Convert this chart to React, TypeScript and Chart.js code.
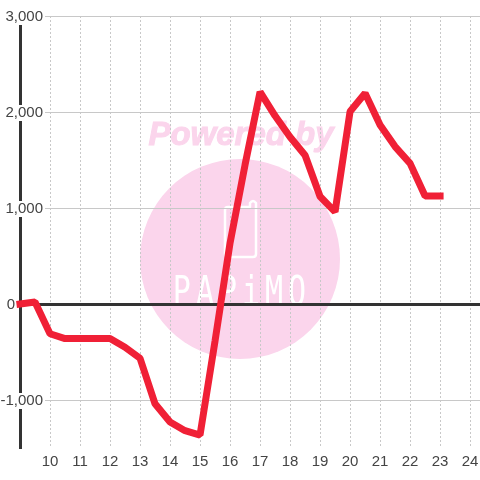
import React, { useEffect, useRef } from "react";
import { Chart, registerables } from "chart.js";

Chart.register(...registerables);

const hours = [9, 9.5, 10, 10.5, 11, 11.5, 12, 12.5, 13, 13.5, 14, 14.5, 15, 15.5, 16, 16.5, 17, 17.5, 18, 18.5, 19, 19.5, 20, 20.5, 21, 21.5, 22, 22.5, 23];
const values = [0, 20, -310, -360, -360, -360, -360, -450, -565, -1040, -1230, -1320, -1365, -385, 635, 1450, 2210, 1960, 1740, 1550, 1120, 960, 2005, 2195, 1865, 1640, 1465, 1125, 1125];

const watermark = {
  id: "watermark",
  beforeDraw(chart: any) {
    const c = chart.ctx;
    c.save();
    c.fillStyle = "#fbd5ec";
    c.beginPath();
    c.arc(240, 259, 100, 0, Math.PI * 2);
    c.fill();
    c.font = "italic bold 33px 'Liberation Sans'";
    c.textAlign = "center";
    c.textBaseline = "alphabetic";
    c.strokeStyle = "#fbd5ec";
    c.lineWidth = 1;
    c.fillText("Powered by", 241, 145);
    c.strokeText("Powered by", 241, 145);
    c.strokeStyle = "#ffffff";
    c.lineWidth = 2.5;
    c.lineJoin = "round";
    c.beginPath();
    c.moveTo(225, 210);
    c.lineTo(225, 254);
    c.quadraticCurveTo(225, 257, 228, 257);
    c.lineTo(253, 257);
    c.quadraticCurveTo(256, 257, 256, 254);
    c.lineTo(256, 203);
    c.quadraticCurveTo(253, 199, 250, 203);
    c.lineTo(250, 207);
    c.lineTo(228, 207);
    c.quadraticCurveTo(225, 207, 225, 210);
    c.stroke();
    c.fillStyle = "#ffffff";
    c.font = "30px 'DejaVu Sans Mono'";
    (c as any).letterSpacing = "5px";
    c.translate(240, 305);
    c.scale(1, 1.36);
    c.fillText("PAPiMO", 2, 0);
    c.restore();
  },
};

export default function App() {
  const ref = useRef<HTMLCanvasElement>(null);
  useEffect(() => {
    document.body.style.margin = "0";
    const chart = new Chart(ref.current!, {
      type: "line",
      data: {
        datasets: [
          {
            data: hours.map((h, i) => ({ x: h, y: values[i] })),
            borderColor: "#f02036",
            borderWidth: 7,
            borderCapStyle: "square",
            borderJoinStyle: "bevel",
            pointRadius: 0,
            tension: 0,
            clip: false,
          },
        ],
      },
      options: {
        animation: false,
        responsive: false,
        layout: { padding: { top: 16, left: 0, right: 0, bottom: 0 } },
        plugins: { legend: { display: false }, tooltip: { enabled: false } },
        scales: {
          x: {
            type: "linear",
            min: 9,
            max: 24.33,
            afterFit(s: any) {
              s.height = 32;
              s.paddingLeft = 0;
              s.paddingRight = 0;
            },
            border: { display: false, dash: [2, 2] },
            grid: {
              color: "#c8c8c8",
              lineWidth: 1,
              drawTicks: false,
            },
            ticks: {
              stepSize: 1,
              includeBounds: false,
              autoSkip: false,
              maxRotation: 0,
              padding: 5,
              color: "#444444",
              font: { family: "'Liberation Sans'", size: 15 },
              callback: (v: any) => (v === 9 ? null : String(v)),
            },
          },
          y: {
            type: "linear",
            min: -1500,
            max: 3000,
            afterFit(s: any) {
              s.width = 20;
              s._computeLabelArea = () => undefined;
            },
            border: { display: true, color: "#333333", width: 3 },
            grid: {
              color: (c: any) => (c.tick && c.tick.value === 0 ? "#333333" : "#c8c8c8"),
              lineWidth: (c: any) => (c.tick && c.tick.value === 0 ? 3 : 1),
              drawTicks: false,
            },
            ticks: {
              stepSize: 500,
              autoSkip: false,
              padding: -23,
              labelOffset: 1,
              color: "#444444",
              font: { family: "'Liberation Sans'", size: 15 },
              showLabelBackdrop: (c: any) => c.tick && c.tick.value !== 0 && c.tick.value % 1000 === 0,
              backdropColor: "#ffffff",
              backdropPadding: { x: 2, y: -1 },
              callback: (v: any) => {
                if (v % 1000 !== 0) return null;
                if (v === 0) return "0      \u2009";
                return v.toLocaleString("en-US");
              },
            } as any,
          },
        },
      },
      plugins: [watermark],
    } as any);
    return () => chart.destroy();
  }, []);
  return <canvas ref={ref} width={480} height={480} style={{ display: "block" }} />;
}
